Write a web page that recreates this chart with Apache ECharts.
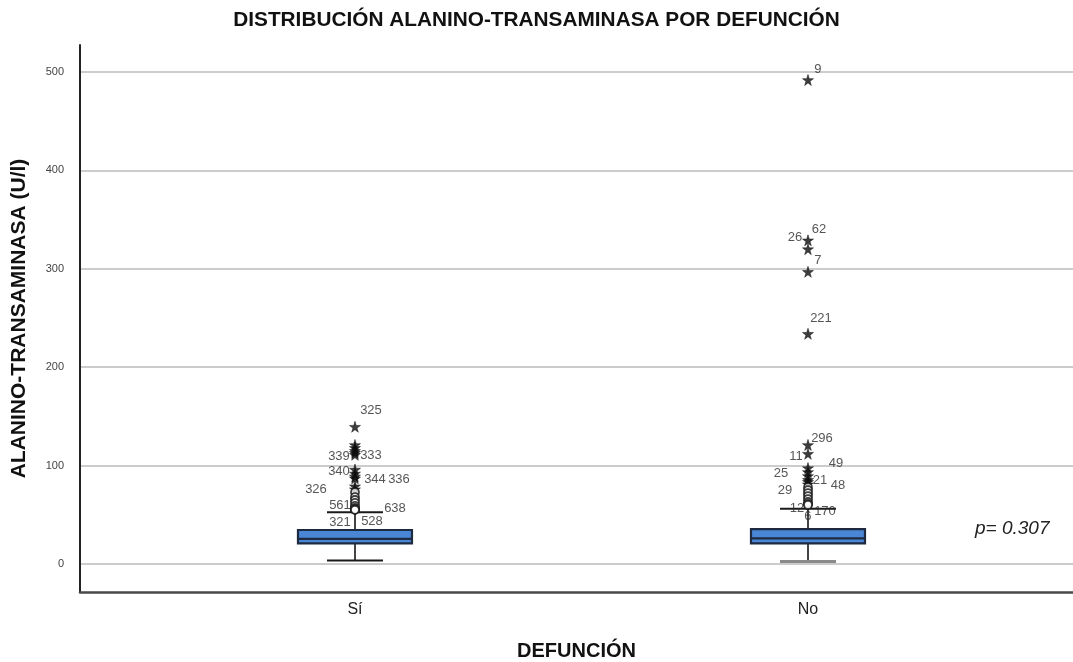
<!DOCTYPE html>
<html>
<head>
<meta charset="utf-8">
<title>Distribución alanino-transaminasa por defunción</title>
<script src="https://cdn.jsdelivr.net/npm/echarts@6/dist/echarts.min.js"></script>
<style>
  html, body { margin: 0; padding: 0; background: #ffffff; }
  #chart { width: 1073px; height: 662px; }
</style>
</head>
<body>
<div id="chart"></div>
<script>
// Groups on the horizontal axis
const categories = ['Sí', 'No'];

// Box statistics per group: [lower whisker, Q1, median, Q3, upper whisker] (U/l)
const boxStats = [
  [3.5, 21, 25.5, 34.5, 52.5],
  [2.5, 21, 26, 35.5, 56]
];

// Outlying cases: [value, kind, case id]; 'star' = extreme, 'circle' = outlier
const outliersSi = [
  [139.5, 'star', '325'],
  [121, 'star', ''],
  [118, 'star', ''],
  [115, 'star', '339'],
  [113, 'star', '333'],
  [111, 'star', ''],
  [96, 'star', '340'],
  [92, 'star', ''],
  [89, 'star', '344'],
  [87, 'star', '336'],
  [79, 'star', ''],
  [76, 'star', '326'],
  [73, 'circle', ''],
  [68, 'circle', ''],
  [65, 'circle', ''],
  [62, 'circle', ''],
  [59, 'circle', ''],
  [57, 'circle', '561'],
  [56, 'circle', '638'],
  [55, 'circle', '321'],
  [55, 'circle', '528']
];

const outliersNo = [
  [492, 'star', '9'],
  [329, 'star', '62'],
  [320, 'star', '26'],
  [297, 'star', '7'],
  [234, 'star', '221'],
  [121, 'star', '296'],
  [112, 'star', '11'],
  [97.5, 'star', '49'],
  [93.5, 'star', '25'],
  [89.5, 'star', ''],
  [85.5, 'star', '21'],
  [83.5, 'star', '48'],
  [81, 'star', ''],
  [78, 'circle', '29'],
  [75, 'circle', ''],
  [72, 'circle', ''],
  [69, 'circle', ''],
  [66, 'circle', ''],
  [63, 'circle', '12'],
  [61, 'circle', '6'],
  [60, 'circle', '170']
];

// Tick labels on the value axis
const yTicks = [0, 100, 200, 300, 400, 500];

const pValueText = 'p= 0.307';

// Case label placement (pixel offset of the label centre from its marker)
const labelOffsets = {
  'Sí': {
    '325': [16, -16], '339': [-16, 6], '333': [16, 3], '340': [-16, 2],
    '344': [20, 3], '336': [44, 1], '326': [-39, 0], '561': [-15, -2],
    '638': [40, 0], '321': [-15, 13], '528': [17, 12]
  },
  'No': {
    '9': [10, -11], '62': [11, -11], '26': [-13, -12], '7': [10, -11],
    '221': [13, -15], '296': [14, -6], '11': [-12, 3], '49': [28, -5],
    '25': [-27, 1], '21': [12, 1], '48': [30, 4], '29': [-23, 3],
    '12': [-11, 6], '6': [0, 12], '170': [17, 6]
  }
};

const FONT = '"Liberation Sans", Arial, Helvetica, sans-serif';
const STAR = 'path://M50,0 L61,35 L98,35 L68,57 L79,91 L50,70 L21,91 L32,57 L2,35 L39,35 Z';
const lowerCapColors = ['#1a1a1a', '#8a8a8a'];

function outlierPoints(list, groupIndex) {
  const group = categories[groupIndex];
  return list.map(([v, kind, id]) => {
    const isStar = kind === 'star';
    const point = {
      value: [groupIndex + 1, v],
      symbol: isStar ? STAR : 'circle',
      symbolSize: isStar ? 11 : 8,
      itemStyle: isStar
        ? { color: '#0d0d0d', borderColor: '#0d0d0d', borderWidth: 0.6 }
        : { color: '#ffffff', borderColor: '#111111', borderWidth: 1.8 }
    };
    if (id) {
      point.label = {
        show: true,
        formatter: id,
        position: 'inside',
        offset: labelOffsets[group][id] || [12, -8],
        color: '#2a2a2a',
        fontSize: 13,
        fontFamily: FONT
      };
    }
    return point;
  });
}

const boxData = categories.map((c, i) => [i + 1].concat(boxStats[i]));

const chart = echarts.init(document.getElementById('chart'), null, { renderer: 'canvas' });

chart.setOption({
  backgroundColor: '#ffffff',
  animation: false,
  title: {
    text: 'DISTRIBUCIÓN ALANINO-TRANSAMINASA POR DEFUNCIÓN',
    left: 'center',
    top: 5,
    textStyle: { fontFamily: FONT, fontSize: 20.8, fontWeight: 'bold', color: '#111111' }
  },
  grid: { left: 80, right: 0, top: 45, bottom: 70, containLabel: false, outerBoundsMode: 'none' },
  xAxis: {
    type: 'value',
    min: 0.393,
    max: 2.585,
    name: 'DEFUNCIÓN',
    nameLocation: 'middle',
    nameGap: 49,
    nameTextStyle: { fontFamily: FONT, fontSize: 20, fontWeight: 'bold', color: '#111111' },
    axisLine: { show: true, onZero: false, lineStyle: { color: '#4a4a4a', width: 2.5 } },
    axisTick: { show: false },
    splitLine: { show: false },
    axisLabel: {
      customValues: [1, 2],
      formatter: v => categories[Math.round(v) - 1] || '',
      fontFamily: FONT,
      fontSize: 16,
      color: '#222222',
      margin: 10
    }
  },
  yAxis: {
    type: 'value',
    min: -28.5,
    max: 527.5,
    name: 'ALANINO-TRANSAMINASA (U/l)',
    nameLocation: 'middle',
    nameGap: 50,
    nameTextStyle: { fontFamily: FONT, fontSize: 21, fontWeight: 'bold', color: '#111111' },
    axisLine: { show: true, onZero: false, lineStyle: { color: '#222222', width: 2 } },
    axisTick: { show: false },
    axisLabel: {
      customValues: yTicks,
      fontFamily: FONT,
      fontSize: 11,
      color: '#444444',
      margin: 16
    },
    splitLine: {
      show: true,
      showMinLine: false,
      showMaxLine: false,
      lineStyle: { color: '#cccccc', width: 2 }
    }
  },
  graphic: [{
    type: 'text',
    left: 975,
    top: 519,
    style: {
      text: pValueText,
      font: 'italic 19px ' + FONT,
      fill: '#222222'
    }
  }],
  series: [
    {
      type: 'custom',
      name: 'box',
      data: boxData,
      encode: { x: 0, y: [1, 2, 3, 4, 5] },
      z: 3,
      renderItem: function (params, api) {
        const x = api.value(0);
        const lo = api.coord([x, api.value(1)]);
        const q1 = api.coord([x, api.value(2)]);
        const med = api.coord([x, api.value(3)]);
        const q3 = api.coord([x, api.value(4)]);
        const hi = api.coord([x, api.value(5)]);
        const half = 57;
        const cap = 28;
        const idx = params.dataIndex;
        const dark = '#1e2a40';
        return {
          type: 'group',
          children: [
            { type: 'line', shape: { x1: lo[0], y1: lo[1], x2: q1[0], y2: q1[1] },
              style: { stroke: '#444444', lineWidth: 2 } },
            { type: 'line', shape: { x1: q3[0], y1: q3[1], x2: hi[0], y2: hi[1] },
              style: { stroke: '#444444', lineWidth: 2 } },
            { type: 'line', shape: { x1: lo[0] - cap, y1: lo[1], x2: lo[0] + cap, y2: lo[1] },
              style: { stroke: lowerCapColors[idx], lineWidth: idx === 1 ? 3 : 2 } },
            { type: 'line', shape: { x1: hi[0] - cap, y1: hi[1], x2: hi[0] + cap, y2: hi[1] },
              style: { stroke: '#1a1a1a', lineWidth: 2 } },
            { type: 'rect', shape: { x: q3[0] - half, y: q3[1], width: half * 2, height: q1[1] - q3[1] },
              style: { fill: '#4a86d6', stroke: dark, lineWidth: 2.2 } },
            { type: 'line', shape: { x1: med[0] - half, y1: med[1], x2: med[0] + half, y2: med[1] },
              style: { stroke: dark, lineWidth: 2.2 } }
          ]
        };
      }
    },
    {
      type: 'scatter',
      name: 'Sí',
      z: 5,
      data: outlierPoints(outliersSi, 0)
    },
    {
      type: 'scatter',
      name: 'No',
      z: 5,
      data: outlierPoints(outliersNo, 1)
    }
  ]
});
</script>
</body>
</html>
